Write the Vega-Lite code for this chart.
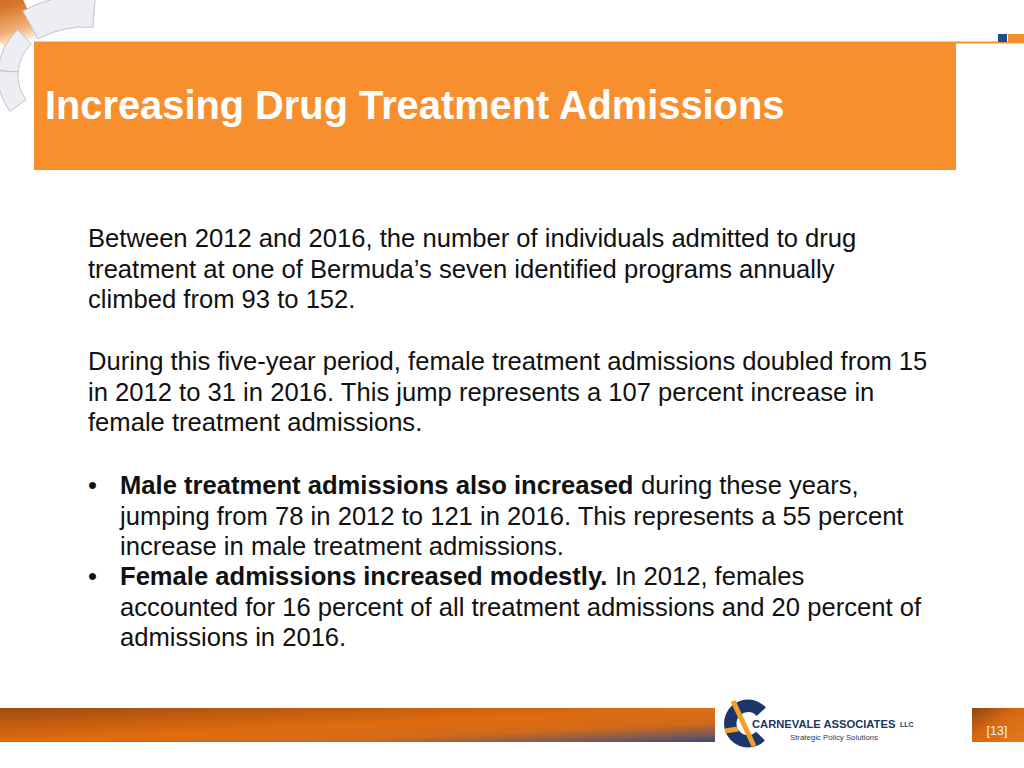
{
  "$schema": "https://vega.github.io/schema/vega-lite/v6.json",
  "width": 1024,
  "height": 768,
  "padding": 0,
  "autosize": {"type": "none"},
  "background": "white",
  "config": {"view": {"stroke": null}},
  "layer": [
    {
      "data": {"values": [{"cx": 85, "cy": 125}]},
      "mark": {"type": "arc", "theta": -0.8, "theta2": -0.46, "radius": 100, "radius2": 165,
        "fill": {"gradient": "linear", "x1": 0, "y1": 0, "x2": 0.3, "y2": 1,
          "stops": [{"offset": 0, "color": "#a4521a"}, {"offset": 0.5, "color": "#d9762a"}, {"offset": 0.8, "color": "#f0b07a"}, {"offset": 1, "color": "#ffffff"}]}},
      "encoding": {
        "x": {"field": "cx", "type": "quantitative", "scale": {"domain": [0, 1024], "nice": false, "zero": false}, "axis": null},
        "y": {"field": "cy", "type": "quantitative", "scale": {"domain": [0, 768], "nice": false, "zero": false, "reverse": true}, "axis": null}
      }
    },
    {
      "data": {"values": [{"cx": 85, "cy": 125}]},
      "mark": {"type": "arc", "theta": -0.5, "theta2": 0.08, "radius": 98, "radius2": 130, "fill": "#eceef3", "stroke": "#b4b8c2", "strokeWidth": 0.8},
      "encoding": {
        "x": {"field": "cx", "type": "quantitative", "scale": {"domain": [0, 1024], "nice": false, "zero": false}, "axis": null},
        "y": {"field": "cy", "type": "quantitative", "scale": {"domain": [0, 768], "nice": false, "zero": false, "reverse": true}, "axis": null}
      }
    },
    {
      "data": {"values": [{"cx": 60, "cy": 75}]},
      "mark": {"type": "arc", "theta": -1.5, "theta2": -0.75, "radius": 42, "radius2": 62, "fill": "#eceef3", "stroke": "#b4b8c2", "strokeWidth": 0.8},
      "encoding": {
        "x": {"field": "cx", "type": "quantitative", "scale": {"domain": [0, 1024], "nice": false, "zero": false}, "axis": null},
        "y": {"field": "cy", "type": "quantitative", "scale": {"domain": [0, 768], "nice": false, "zero": false, "reverse": true}, "axis": null}
      }
    },
    {
      "data": {"values": [{"cx": 60, "cy": 75}]},
      "mark": {"type": "arc", "theta": -2.2, "theta2": -1.5, "radius": 42, "radius2": 62, "fill": "#eceef3", "stroke": "#b4b8c2", "strokeWidth": 0.8},
      "encoding": {
        "x": {"field": "cx", "type": "quantitative", "scale": {"domain": [0, 1024], "nice": false, "zero": false}, "axis": null},
        "y": {"field": "cy", "type": "quantitative", "scale": {"domain": [0, 768], "nice": false, "zero": false, "reverse": true}, "axis": null}
      }
    },
    {
      "data": {"values": [
        {"x": 34, "x2": 1024, "y": 41.5, "y2": 43.5},
        {"x": 34, "x2": 956, "y": 43, "y2": 170},
        {"x": 1008, "x2": 1024, "y": 34, "y2": 42}
      ]},
      "mark": {"type": "rect", "fill": "#f78f2f"},
      "encoding": {
        "x": {"field": "x", "type": "quantitative", "scale": {"domain": [0, 1024], "nice": false, "zero": false}, "axis": null},
        "x2": {"field": "x2"},
        "y": {"field": "y", "type": "quantitative", "scale": {"domain": [0, 768], "nice": false, "zero": false, "reverse": true}, "axis": null},
        "y2": {"field": "y2"}
      }
    },
    {
      "data": {"values": [{"x": 998, "x2": 1007, "y": 34, "y2": 42}]},
      "mark": {"type": "rect", "fill": "#1f4e8c"},
      "encoding": {
        "x": {"field": "x", "type": "quantitative", "scale": {"domain": [0, 1024], "nice": false, "zero": false}, "axis": null},
        "x2": {"field": "x2"},
        "y": {"field": "y", "type": "quantitative", "scale": {"domain": [0, 768], "nice": false, "zero": false, "reverse": true}, "axis": null},
        "y2": {"field": "y2"}
      }
    },
    {
      "data": {"values": [{"x": 45, "y": 119, "text": "Increasing Drug Treatment Admissions"}]},
      "mark": {"type": "text", "align": "left", "baseline": "alphabetic", "font": "Liberation Sans", "fontWeight": "bold", "fontSize": 39.8, "fill": "#ffffff"},
      "encoding": {
        "x": {"field": "x", "type": "quantitative", "scale": {"domain": [0, 1024], "nice": false, "zero": false}, "axis": null},
        "y": {"field": "y", "type": "quantitative", "scale": {"domain": [0, 768], "nice": false, "zero": false, "reverse": true}, "axis": null},
        "text": {"field": "text"}
      }
    },
    {
      "data": {"values": [
        {"x": 88, "y": 247, "text": "Between 2012 and 2016, the number of individuals admitted to drug"},
        {"x": 88, "y": 277.5, "text": "treatment at one of Bermuda’s seven identified programs annually"},
        {"x": 88, "y": 308, "text": "climbed from 93 to 152."},
        {"x": 88, "y": 370, "text": "During this five-year period, female treatment admissions doubled from 15"},
        {"x": 88, "y": 400.5, "text": "in 2012 to 31 in 2016. This jump represents a 107 percent increase in"},
        {"x": 88, "y": 431, "text": "female treatment admissions."},
        {"x": 88, "y": 494, "text": "•"},
        {"x": 641, "y": 494, "text": "during these years,"},
        {"x": 120, "y": 524.5, "text": "jumping from 78 in 2012 to 121 in 2016. This represents a 55 percent"},
        {"x": 120, "y": 555, "text": "increase in male treatment admissions."},
        {"x": 88, "y": 585, "text": "•"},
        {"x": 615, "y": 585, "text": "In 2012, females"},
        {"x": 120, "y": 615.5, "text": "accounted for 16 percent of all treatment admissions and 20 percent of"},
        {"x": 120, "y": 646, "text": "admissions in 2016."}
      ]},
      "mark": {"type": "text", "align": "left", "baseline": "alphabetic", "font": "Liberation Sans", "fontSize": 25.6, "fill": "#111111"},
      "encoding": {
        "x": {"field": "x", "type": "quantitative", "scale": {"domain": [0, 1024], "nice": false, "zero": false}, "axis": null},
        "y": {"field": "y", "type": "quantitative", "scale": {"domain": [0, 768], "nice": false, "zero": false, "reverse": true}, "axis": null},
        "text": {"field": "text"}
      }
    },
    {
      "data": {"values": [
        {"x": 120, "y": 494, "text": "Male treatment admissions also increased"},
        {"x": 120, "y": 585, "text": "Female admissions increased modestly."}
      ]},
      "mark": {"type": "text", "align": "left", "baseline": "alphabetic", "font": "Liberation Sans", "fontWeight": "bold", "fontSize": 25.6, "fill": "#111111"},
      "encoding": {
        "x": {"field": "x", "type": "quantitative", "scale": {"domain": [0, 1024], "nice": false, "zero": false}, "axis": null},
        "y": {"field": "y", "type": "quantitative", "scale": {"domain": [0, 768], "nice": false, "zero": false, "reverse": true}, "axis": null},
        "text": {"field": "text"}
      }
    },
    {
      "data": {"values": [{"x": 0, "x2": 715, "y": 708, "y2": 742}]},
      "mark": {"type": "rect", "fill": {"gradient": "linear", "x1": 0, "y1": 0, "x2": 1, "y2": 1,
        "stops": [{"offset": 0, "color": "#9e4c10"}, {"offset": 0.25, "color": "#c25c0e"}, {"offset": 0.5, "color": "#e06c10"}, {"offset": 0.72, "color": "#d06a1c"}, {"offset": 0.86, "color": "#8a5c4c"}, {"offset": 1, "color": "#3a4a80"}]}},
      "encoding": {
        "x": {"field": "x", "type": "quantitative", "scale": {"domain": [0, 1024], "nice": false, "zero": false}, "axis": null},
        "x2": {"field": "x2"},
        "y": {"field": "y", "type": "quantitative", "scale": {"domain": [0, 768], "nice": false, "zero": false, "reverse": true}, "axis": null},
        "y2": {"field": "y2"}
      }
    },
    {
      "data": {"values": [{"x": 972, "x2": 1024, "y": 708, "y2": 742}]},
      "mark": {"type": "rect", "fill": {"gradient": "linear", "x1": 0, "y1": 0, "x2": 1, "y2": 1,
        "stops": [{"offset": 0, "color": "#8e4612"}, {"offset": 0.45, "color": "#d8680f"}, {"offset": 1, "color": "#e27a22"}]}},
      "encoding": {
        "x": {"field": "x", "type": "quantitative", "scale": {"domain": [0, 1024], "nice": false, "zero": false}, "axis": null},
        "x2": {"field": "x2"},
        "y": {"field": "y", "type": "quantitative", "scale": {"domain": [0, 768], "nice": false, "zero": false, "reverse": true}, "axis": null},
        "y2": {"field": "y2"}
      }
    },
    {
      "data": {"values": [{"x": 997, "y": 735, "text": "[13]"}]},
      "mark": {"type": "text", "align": "center", "baseline": "alphabetic", "font": "Liberation Sans", "fontSize": 12.5, "fill": "#f4f4f4"},
      "encoding": {
        "x": {"field": "x", "type": "quantitative", "scale": {"domain": [0, 1024], "nice": false, "zero": false}, "axis": null},
        "y": {"field": "y", "type": "quantitative", "scale": {"domain": [0, 768], "nice": false, "zero": false, "reverse": true}, "axis": null},
        "text": {"field": "text"}
      }
    },
    {
      "data": {"values": [{"cx": 748, "cy": 723.5}]},
      "mark": {"type": "arc", "theta": 2.36, "theta2": 7.13, "radius": 11.5, "radius2": 24, "fill": "#1b3668"},
      "encoding": {
        "x": {"field": "cx", "type": "quantitative", "scale": {"domain": [0, 1024], "nice": false, "zero": false}, "axis": null},
        "y": {"field": "cy", "type": "quantitative", "scale": {"domain": [0, 768], "nice": false, "zero": false, "reverse": true}, "axis": null}
      }
    },
    {
      "data": {"values": [{"x": 733, "x2": 754, "y": 701, "y2": 746}, {"x": 725, "x2": 738, "y": 731, "y2": 729}]},
      "mark": {"type": "rule", "stroke": "#f4a024", "strokeWidth": 5},
      "encoding": {
        "x": {"field": "x", "type": "quantitative", "scale": {"domain": [0, 1024], "nice": false, "zero": false}, "axis": null},
        "x2": {"field": "x2"},
        "y": {"field": "y", "type": "quantitative", "scale": {"domain": [0, 768], "nice": false, "zero": false, "reverse": true}, "axis": null},
        "y2": {"field": "y2"}
      }
    },
    {
      "data": {"values": [{"x": 752, "y": 727.5, "text": "CARNEVALE ASSOCIATES"}]},
      "mark": {"type": "text", "align": "left", "baseline": "alphabetic", "font": "Liberation Sans", "fontWeight": "bold", "fontSize": 11.2, "fill": "#1b3668"},
      "encoding": {
        "x": {"field": "x", "type": "quantitative", "scale": {"domain": [0, 1024], "nice": false, "zero": false}, "axis": null},
        "y": {"field": "y", "type": "quantitative", "scale": {"domain": [0, 768], "nice": false, "zero": false, "reverse": true}, "axis": null},
        "text": {"field": "text"}
      }
    },
    {
      "data": {"values": [{"x": 900, "y": 727, "text": "LLC"}]},
      "mark": {"type": "text", "align": "left", "baseline": "alphabetic", "font": "Liberation Sans", "fontWeight": "bold", "fontSize": 7, "fill": "#1b3668"},
      "encoding": {
        "x": {"field": "x", "type": "quantitative", "scale": {"domain": [0, 1024], "nice": false, "zero": false}, "axis": null},
        "y": {"field": "y", "type": "quantitative", "scale": {"domain": [0, 768], "nice": false, "zero": false, "reverse": true}, "axis": null},
        "text": {"field": "text"}
      }
    },
    {
      "data": {"values": [{"x": 790, "y": 739.5, "text": "Strategic Policy Solutions"}]},
      "mark": {"type": "text", "align": "left", "baseline": "alphabetic", "font": "Liberation Sans", "fontSize": 7.8, "fill": "#2c3b5c"},
      "encoding": {
        "x": {"field": "x", "type": "quantitative", "scale": {"domain": [0, 1024], "nice": false, "zero": false}, "axis": null},
        "y": {"field": "y", "type": "quantitative", "scale": {"domain": [0, 768], "nice": false, "zero": false, "reverse": true}, "axis": null},
        "text": {"field": "text"}
      }
    }
  ]
}
